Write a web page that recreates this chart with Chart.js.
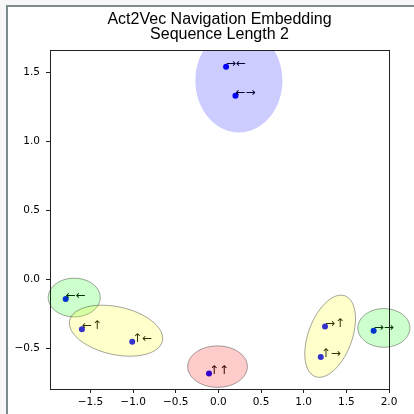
<!DOCTYPE html>
<html>
<head>
<meta charset="utf-8">
<script src="https://cdn.jsdelivr.net/npm/chart.js@4.4.1/dist/chart.umd.min.js"></script>
<style>
  html, body { margin: 0; padding: 0; background: #f7f7f7; }
  #frame {
    position: absolute; left: 6px; top: 5px; width: 420px; height: 420px;
    border-left: 2px solid #7b8a8a; border-top: 2px solid #7b8a8a; background: #fff;
  }
  #chart { position: absolute; left: 0; top: 0; }
</style>
</head>
<body>
<div id="frame"></div>
<canvas id="chart" width="414" height="414"></canvas>
<script>
// Act2Vec navigation embedding, sequence length 2

// points
const actionLabels = ['→←', '←→', '←←', '←↑', '↑←', '↑↑', '→↑', '↑→', '→→'];
const pointX = [0.09, 0.20, -1.79, -1.60, -1.01, -0.11, 1.25, 1.20, 1.82];
const pointY = [1.54, 1.33, -0.14, -0.36, -0.45, -0.68, -0.34, -0.56, -0.37];

// cluster ellipses (data units, angle in degrees)
const clusterX = [0.24, -1.69, -1.20, -0.01, 1.31, 1.94];
const clusterY = [1.44, -0.13, -0.37, -0.63, -0.41, -0.35];
const clusterW = [1.02, 0.61, 1.10, 0.70, 0.71, 0.61];
const clusterH = [0.75, 0.28, 0.35, 0.30, 0.45, 0.28];
const clusterAngle = [0, 0, -6.4, 0, 45, 0];

// axis
const xRange = [-1.974, 2.0];
const yRange = [-0.792, 1.661];
const tickStep = 0.5;

// styling
const clusterFill = ['rgba(0,0,255,0.2)', 'rgba(0,255,0,0.2)', 'rgba(255,255,0,0.2)',
                     'rgba(255,0,0,0.2)', 'rgba(255,255,0,0.2)', 'rgba(0,255,0,0.2)'];
const clusterEdge = [null, 'rgba(0,0,0,0.45)', 'rgba(0,0,0,0.45)',
                     'rgba(0,0,0,0.45)', 'rgba(0,0,0,0.45)', 'rgba(0,0,0,0.45)'];

const fmt = v => (v < 0 ? '\u2212' : '') + Math.abs(v).toFixed(1);

// labels, ellipses and the top/right spines
const overlay = {
    id: 'overlay',
    afterDatasetsDraw(chart) {
        const { ctx, chartArea, scales: { x, y } } = chart;
        ctx.save();

        // action labels next to each point
        ctx.font = '12px "DejaVu Sans"';
        ctx.fillStyle = '#000';
        ctx.textAlign = 'left';
        ctx.textBaseline = 'alphabetic';
        actionLabels.forEach((t, i) => {
            ctx.fillText(t, x.getPixelForValue(pointX[i]), y.getPixelForValue(pointY[i]));
        });

        // ellipses (only clipped at the top of the plot)
        ctx.beginPath();
        ctx.rect(0, chartArea.top, chart.width, chart.height - chartArea.top);
        ctx.clip();
        clusterX.forEach((cx, i) => {
            const a = clusterAngle[i] * Math.PI / 180;
            const rw = clusterW[i] / 2, rh = clusterH[i] / 2;
            ctx.beginPath();
            for (let k = 0; k <= 120; k++) {
                const t = k / 120 * Math.PI * 2;
                const dx = rw * Math.cos(t), dy = rh * Math.sin(t);
                const px = x.getPixelForValue(cx + dx * Math.cos(a) - dy * Math.sin(a));
                const py = y.getPixelForValue(clusterY[i] + dx * Math.sin(a) + dy * Math.cos(a));
                if (k === 0) ctx.moveTo(px, py); else ctx.lineTo(px, py);
            }
            ctx.closePath();
            ctx.fillStyle = clusterFill[i];
            ctx.fill();
            if (clusterEdge[i]) {
                ctx.strokeStyle = clusterEdge[i];
                ctx.lineWidth = 0.8;
                ctx.stroke();
            }
        });
        ctx.restore();

        // spines
        ctx.save();
        ctx.strokeStyle = '#222';
        ctx.lineWidth = 1;
        ctx.strokeRect(Math.round(chartArea.left) + 0.5, Math.round(chartArea.top) + 0.5,
                       Math.round(chartArea.right - chartArea.left), Math.round(chartArea.bottom - chartArea.top));
        ctx.restore();
    }
};

new Chart(document.getElementById('chart'), {
    type: 'scatter',
    data: {
        datasets: [{
            data: pointX.map((v, i) => ({ x: v, y: pointY[i] })),
            backgroundColor: '#0000ff',
            borderWidth: 0,
            pointRadius: 3,
            pointHoverRadius: 3
        }]
    },
    options: {
        responsive: false,
        animation: false,
        layout: { padding: { top: 0, right: 25, bottom: 0, left: 0 } },
        plugins: {
            legend: { display: false },
            tooltip: { enabled: false },
            title: {
                display: true,
                fullSize: false,
                text: ['Act2Vec Navigation Embedding', 'Sequence Length 2'],
                color: '#000',
                font: { family: '"Liberation Sans", Arial, sans-serif', size: 16, weight: 'normal', lineHeight: 0.94 },
                padding: { top: 12.5, bottom: 7.5 }
            }
        },
        scales: {
            x: {
                type: 'linear',
                min: xRange[0], max: xRange[1],
                afterFit: s => { s.height = 25; },
                grid: { drawOnChartArea: false, drawTicks: true, tickLength: 4, tickColor: '#222' },
                border: { display: true, color: '#222', width: 1 },
                ticks: {
                    stepSize: tickStep, includeBounds: false, autoSkip: false, maxRotation: 0,
                    padding: 3, color: '#000',
                    font: { family: '"DejaVu Sans"', size: 10.5 },
                    callback: fmt
                }
            },
            y: {
                type: 'linear',
                min: yRange[0], max: yRange[1],
                afterFit: s => { s.width = 50; },
                grid: { drawOnChartArea: false, drawTicks: true, tickLength: 4, tickColor: '#222' },
                border: { display: true, color: '#222', width: 1 },
                ticks: {
                    stepSize: tickStep, includeBounds: false, autoSkip: false,
                    padding: 6, color: '#000',
                    font: { family: '"DejaVu Sans"', size: 10.5 },
                    callback: fmt
                }
            }
        }
    },
    plugins: [overlay]
});
</script>
</body>
</html>
